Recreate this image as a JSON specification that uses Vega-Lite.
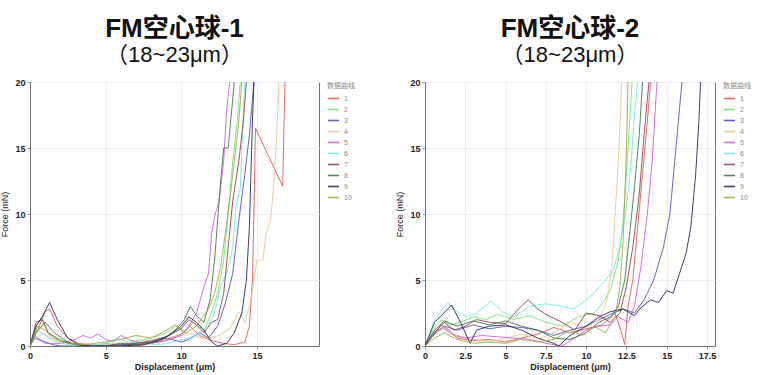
{
  "$schema": "https://vega.github.io/schema/vega-lite/v6.json",
  "background": "white",
  "padding": {"left": 0, "top": 15, "right": 0, "bottom": 0},
  "config": {
    "font": "Liberation Sans",
    "view": {"stroke": "#707070", "strokeWidth": 1},
    "axis": {"labelFont": "Liberation Sans", "labelFontSize": 9, "labelFontWeight": "bold", "labelColor": "#222", "titleFont": "Liberation Sans", "titleFontSize": 9, "titleFontWeight": "bold", "titleColor": "#222", "gridColor": "#eeeeee", "domain": true, "domainColor": "#707070", "tickColor": "#999", "tickSize": 3, "labelPadding": 2},
    "legend": {"titleFontSize": 7, "titleFontWeight": "normal", "titleColor": "#888", "titleFont": "Noto Sans CJK SC", "labelFontSize": 7, "labelColor": "#888", "symbolType": "stroke", "symbolStrokeWidth": 1.6, "symbolSize": 120, "rowPadding": 1, "offset": 8, "titlePadding": 3},
    "title": {"font": "Liberation Sans, Noto Sans CJK SC", "fontSize": 26, "fontWeight": "bold", "color": "#111", "subtitleFont": "Liberation Sans, Noto Sans CJK SC", "subtitleFontSize": 22, "subtitleColor": "#111", "subtitlePadding": 0, "anchor": "middle", "offset": 12}
  },
  "datasets": {
    "p1": [
      {"c":1,"x":0,"y":0},{"c":1,"x":0.5,"y":1.2},{"c":1,"x":1.0,"y":2.6},{"c":1,"x":1.3,"y":2.8},{"c":1,"x":1.8,"y":1.5},{"c":1,"x":2.5,"y":0.6},{"c":1,"x":3.2,"y":0.2},{"c":1,"x":4,"y":0.1},{"c":1,"x":5,"y":0},{"c":1,"x":6,"y":0.1},{"c":1,"x":7,"y":0},{"c":1,"x":8,"y":0.2},{"c":1,"x":9,"y":0.5},{"c":1,"x":10,"y":0.9},{"c":1,"x":10.6,"y":1.5},{"c":1,"x":11.2,"y":0.8},{"c":1,"x":12,"y":0.4},{"c":1,"x":12.8,"y":0.2},{"c":1,"x":13.5,"y":0.1},{"c":1,"x":14.2,"y":0.3},{"c":1,"x":14.5,"y":1.5},{"c":1,"x":14.7,"y":5},{"c":1,"x":14.8,"y":10},{"c":1,"x":14.9,"y":16.5},{"c":1,"x":16.7,"y":12.1},{"c":1,"x":16.85,"y":20},{"c":1,"x":16.9,"y":22},
      {"c":2,"x":0,"y":0},{"c":2,"x":0.4,"y":1.5},{"c":2,"x":0.8,"y":2.2},{"c":2,"x":1.2,"y":1.0},{"c":2,"x":1.8,"y":0.6},{"c":2,"x":2.5,"y":0.3},{"c":2,"x":3,"y":0.1},{"c":2,"x":4,"y":0},{"c":2,"x":5,"y":0.2},{"c":2,"x":6,"y":0.1},{"c":2,"x":7,"y":0.3},{"c":2,"x":8,"y":0.6},{"c":2,"x":9,"y":1.0},{"c":2,"x":9.6,"y":1.5},{"c":2,"x":10.2,"y":1.0},{"c":2,"x":10.8,"y":1.8},{"c":2,"x":11.5,"y":1.2},{"c":2,"x":12.0,"y":2.5},{"c":2,"x":12.4,"y":4.0},{"c":2,"x":12.8,"y":6.5},{"c":2,"x":13.1,"y":10},{"c":2,"x":13.4,"y":14},{"c":2,"x":13.7,"y":17},{"c":2,"x":13.9,"y":20},{"c":2,"x":14,"y":22},
      {"c":3,"x":0,"y":0},{"c":3,"x":0.3,"y":0.6},{"c":3,"x":0.8,"y":0.4},{"c":3,"x":1.5,"y":0.1},{"c":3,"x":2,"y":0},{"c":3,"x":4,"y":0},{"c":3,"x":6,"y":0.1},{"c":3,"x":8,"y":0.3},{"c":3,"x":9,"y":0.6},{"c":3,"x":10,"y":0.3},{"c":3,"x":10.5,"y":0.5},{"c":3,"x":11.2,"y":1.0},{"c":3,"x":11.8,"y":0.6},{"c":3,"x":12.4,"y":1.5},{"c":3,"x":12.9,"y":3.2},{"c":3,"x":13.4,"y":5.5},{"c":3,"x":13.8,"y":9.5},{"c":3,"x":14.2,"y":13},{"c":3,"x":14.5,"y":16},{"c":3,"x":14.8,"y":20},{"c":3,"x":14.9,"y":22},
      {"c":4,"x":0,"y":0},{"c":4,"x":0.4,"y":0.6},{"c":4,"x":0.9,"y":1.0},{"c":4,"x":1.5,"y":0.5},{"c":4,"x":2.5,"y":0.2},{"c":4,"x":3.5,"y":0},{"c":4,"x":5,"y":0.1},{"c":4,"x":6.5,"y":0.3},{"c":4,"x":7.5,"y":0.5},{"c":4,"x":8.5,"y":0.2},{"c":4,"x":9.5,"y":0.6},{"c":4,"x":10.5,"y":1.0},{"c":4,"x":11.5,"y":0.5},{"c":4,"x":12.5,"y":0.8},{"c":4,"x":13.2,"y":1.3},{"c":4,"x":13.8,"y":2.6},{"c":4,"x":14.2,"y":1.8},{"c":4,"x":14.6,"y":3.5},{"c":4,"x":15.0,"y":6.5},{"c":4,"x":15.4,"y":6.5},{"c":4,"x":15.6,"y":8.5},{"c":4,"x":15.9,"y":9.6},{"c":4,"x":16.1,"y":12},{"c":4,"x":16.3,"y":16},{"c":4,"x":16.45,"y":20},{"c":4,"x":16.5,"y":22},
      {"c":5,"x":0,"y":0},{"c":5,"x":0.3,"y":0.8},{"c":5,"x":0.6,"y":0.5},{"c":5,"x":1.0,"y":0.2},{"c":5,"x":2,"y":0.2},{"c":5,"x":3,"y":0.5},{"c":5,"x":3.5,"y":0.8},{"c":5,"x":4,"y":0.6},{"c":5,"x":4.5,"y":0.9},{"c":5,"x":5,"y":0.5},{"c":5,"x":5.5,"y":0.3},{"c":5,"x":6,"y":0.8},{"c":5,"x":6.5,"y":0.5},{"c":5,"x":7,"y":0.3},{"c":5,"x":8,"y":0.2},{"c":5,"x":9,"y":0.4},{"c":5,"x":10,"y":0.8},{"c":5,"x":10.5,"y":1.5},{"c":5,"x":11,"y":2.5},{"c":5,"x":11.5,"y":4.5},{"c":5,"x":11.8,"y":5.5},{"c":5,"x":12.0,"y":8.5},{"c":5,"x":12.2,"y":9.8},{"c":5,"x":12.5,"y":11},{"c":5,"x":12.8,"y":14},{"c":5,"x":13.0,"y":18},{"c":5,"x":13.2,"y":20},{"c":5,"x":13.3,"y":22},
      {"c":6,"x":0,"y":0},{"c":6,"x":0.5,"y":1.2},{"c":6,"x":1.0,"y":0.8},{"c":6,"x":1.5,"y":0.4},{"c":6,"x":2.5,"y":0.1},{"c":6,"x":3.5,"y":0},{"c":6,"x":5,"y":0.2},{"c":6,"x":5.8,"y":0.6},{"c":6,"x":6.5,"y":0.3},{"c":6,"x":7.5,"y":0.2},{"c":6,"x":8.5,"y":0.1},{"c":6,"x":9.5,"y":0.3},{"c":6,"x":10.5,"y":0.6},{"c":6,"x":11.2,"y":0.9},{"c":6,"x":11.8,"y":1.6},{"c":6,"x":12.2,"y":2.5},{"c":6,"x":12.6,"y":4.5},{"c":6,"x":13,"y":5.5},{"c":6,"x":13.4,"y":7.5},{"c":6,"x":13.6,"y":10.5},{"c":6,"x":13.9,"y":12},{"c":6,"x":14.0,"y":15},{"c":6,"x":14.2,"y":20},{"c":6,"x":14.3,"y":22},
      {"c":7,"x":0,"y":0},{"c":7,"x":0.4,"y":1.8},{"c":7,"x":0.8,"y":2.0},{"c":7,"x":1.2,"y":1.0},{"c":7,"x":2,"y":0.4},{"c":7,"x":3,"y":0.1},{"c":7,"x":4,"y":0},{"c":7,"x":6,"y":0},{"c":7,"x":7,"y":0.2},{"c":7,"x":8,"y":0.4},{"c":7,"x":9,"y":0.7},{"c":7,"x":10,"y":1.3},{"c":7,"x":10.5,"y":2.0},{"c":7,"x":11,"y":1.6},{"c":7,"x":11.5,"y":1.0},{"c":7,"x":12,"y":1.8},{"c":7,"x":12.4,"y":2.0},{"c":7,"x":12.8,"y":4},{"c":7,"x":13.1,"y":7.5},{"c":7,"x":13.4,"y":11},{"c":7,"x":13.8,"y":14},{"c":7,"x":14.1,"y":17},{"c":7,"x":14.3,"y":20},{"c":7,"x":14.4,"y":22},
      {"c":8,"x":0,"y":0},{"c":8,"x":0.4,"y":1.0},{"c":8,"x":1.0,"y":1.8},{"c":8,"x":1.6,"y":1.0},{"c":8,"x":2.5,"y":0.3},{"c":8,"x":3.5,"y":0},{"c":8,"x":5,"y":0},{"c":8,"x":6,"y":0.2},{"c":8,"x":7,"y":0.1},{"c":8,"x":8,"y":0.3},{"c":8,"x":9,"y":0.7},{"c":8,"x":9.6,"y":1.2},{"c":8,"x":10.2,"y":2.0},{"c":8,"x":10.6,"y":3.0},{"c":8,"x":11.0,"y":2.3},{"c":8,"x":11.5,"y":1.8},{"c":8,"x":11.9,"y":3.5},{"c":8,"x":12.2,"y":6.5},{"c":8,"x":12.4,"y":9.5},{"c":8,"x":12.6,"y":12.5},{"c":8,"x":12.8,"y":15},{"c":8,"x":13.1,"y":15},{"c":8,"x":13.3,"y":17.5},{"c":8,"x":13.5,"y":20},{"c":8,"x":13.6,"y":22},
      {"c":9,"x":0,"y":0},{"c":9,"x":0.4,"y":1.5},{"c":9,"x":0.8,"y":2.2},{"c":9,"x":1.3,"y":3.3},{"c":9,"x":1.8,"y":2.0},{"c":9,"x":2.5,"y":0.6},{"c":9,"x":3.2,"y":0.1},{"c":9,"x":4,"y":0},{"c":9,"x":6,"y":0},{"c":9,"x":7.5,"y":0.1},{"c":9,"x":8.5,"y":0.4},{"c":9,"x":9.2,"y":0.8},{"c":9,"x":10,"y":1.5},{"c":9,"x":10.5,"y":2.2},{"c":9,"x":11,"y":1.8},{"c":9,"x":11.5,"y":1.2},{"c":9,"x":12.0,"y":0.3},{"c":9,"x":12.4,"y":0},{"c":9,"x":13.0,"y":0.2},{"c":9,"x":13.5,"y":1.0},{"c":9,"x":14.0,"y":2.5},{"c":9,"x":14.3,"y":5},{"c":9,"x":14.5,"y":9},{"c":9,"x":14.6,"y":13},{"c":9,"x":14.7,"y":17},{"c":9,"x":14.8,"y":20},{"c":9,"x":14.85,"y":22},
      {"c":10,"x":0,"y":0},{"c":10,"x":0.5,"y":1.5},{"c":10,"x":1.0,"y":1.2},{"c":10,"x":1.5,"y":0.6},{"c":10,"x":2.5,"y":0.2},{"c":10,"x":3.5,"y":0.1},{"c":10,"x":5,"y":0.3},{"c":10,"x":6,"y":0.5},{"c":10,"x":7,"y":0.8},{"c":10,"x":8,"y":0.6},{"c":10,"x":9,"y":1.2},{"c":10,"x":9.6,"y":1.6},{"c":10,"x":10.3,"y":1.0},{"c":10,"x":11,"y":1.5},{"c":10,"x":11.8,"y":2.8},{"c":10,"x":12.2,"y":4},{"c":10,"x":12.6,"y":6},{"c":10,"x":12.9,"y":8.5},{"c":10,"x":13.2,"y":11},{"c":10,"x":13.5,"y":14},{"c":10,"x":13.8,"y":17},{"c":10,"x":14.0,"y":20},{"c":10,"x":14.1,"y":22}
    ],
    "p2": [
      {"c":1,"x":0,"y":0},{"c":1,"x":0.5,"y":0.8},{"c":1,"x":1.0,"y":1.6},{"c":1,"x":1.5,"y":1.2},{"c":1,"x":2,"y":0.6},{"c":1,"x":3,"y":0.4},{"c":1,"x":4,"y":0.5},{"c":1,"x":5,"y":0.3},{"c":1,"x":6,"y":0.6},{"c":1,"x":7,"y":0.9},{"c":1,"x":8,"y":1.4},{"c":1,"x":9,"y":1.0},{"c":1,"x":10,"y":1.3},{"c":1,"x":11,"y":1.6},{"c":1,"x":11.8,"y":2.5},{"c":1,"x":12.2,"y":1.0},{"c":1,"x":12.4,"y":0.1},{"c":1,"x":12.6,"y":3},{"c":1,"x":12.9,"y":5},{"c":1,"x":13.2,"y":9},{"c":1,"x":13.5,"y":13},{"c":1,"x":13.8,"y":17},{"c":1,"x":14.0,"y":20},{"c":1,"x":14.1,"y":22},
      {"c":2,"x":0,"y":0},{"c":2,"x":0.5,"y":1.2},{"c":2,"x":1.0,"y":2.0},{"c":2,"x":1.6,"y":1.6},{"c":2,"x":2.2,"y":1.8},{"c":2,"x":3,"y":2.2},{"c":2,"x":3.8,"y":2.0},{"c":2,"x":4.5,"y":2.4},{"c":2,"x":5.5,"y":2.0},{"c":2,"x":6.5,"y":2.3},{"c":2,"x":7.5,"y":1.8},{"c":2,"x":8.5,"y":1.5},{"c":2,"x":9.5,"y":2.2},{"c":2,"x":10.5,"y":2.5},{"c":2,"x":11,"y":3.2},{"c":2,"x":11.5,"y":4.2},{"c":2,"x":12.0,"y":6.5},{"c":2,"x":12.3,"y":9.5},{"c":2,"x":12.5,"y":13},{"c":2,"x":12.7,"y":17},{"c":2,"x":12.85,"y":20},{"c":2,"x":12.9,"y":22},
      {"c":3,"x":0,"y":0},{"c":3,"x":0.5,"y":0.8},{"c":3,"x":1.2,"y":1.5},{"c":3,"x":2,"y":1.2},{"c":3,"x":3,"y":1.6},{"c":3,"x":4,"y":1.3},{"c":3,"x":5,"y":1.5},{"c":3,"x":6,"y":1.4},{"c":3,"x":7,"y":1.2},{"c":3,"x":8,"y":0.8},{"c":3,"x":9,"y":1.2},{"c":3,"x":10,"y":1.5},{"c":3,"x":10.8,"y":2.0},{"c":3,"x":11.5,"y":2.4},{"c":3,"x":12.3,"y":2.8},{"c":3,"x":13,"y":2.5},{"c":3,"x":13.6,"y":3.5},{"c":3,"x":14.2,"y":5},{"c":3,"x":14.8,"y":7.5},{"c":3,"x":15.2,"y":10},{"c":3,"x":15.5,"y":14},{"c":3,"x":15.8,"y":18},{"c":3,"x":15.95,"y":20},{"c":3,"x":16,"y":22},
      {"c":4,"x":0,"y":0},{"c":4,"x":0.6,"y":1.0},{"c":4,"x":1.2,"y":1.3},{"c":4,"x":2,"y":0.8},{"c":4,"x":3,"y":0.5},{"c":4,"x":4,"y":0.3},{"c":4,"x":5,"y":0.6},{"c":4,"x":6,"y":0.9},{"c":4,"x":7,"y":0.5},{"c":4,"x":8,"y":1.0},{"c":4,"x":9,"y":1.8},{"c":4,"x":10,"y":1.4},{"c":4,"x":10.8,"y":2.0},{"c":4,"x":11.3,"y":3.5},{"c":4,"x":11.6,"y":6},{"c":4,"x":11.8,"y":10},{"c":4,"x":12.0,"y":14},{"c":4,"x":12.15,"y":18},{"c":4,"x":12.2,"y":20},{"c":4,"x":12.25,"y":22},
      {"c":5,"x":0,"y":0},{"c":5,"x":0.5,"y":1.0},{"c":5,"x":1.1,"y":1.4},{"c":5,"x":1.8,"y":0.8},{"c":5,"x":2.5,"y":0.6},{"c":5,"x":3.5,"y":0.8},{"c":5,"x":4.5,"y":0.7},{"c":5,"x":5.5,"y":0.6},{"c":5,"x":6.5,"y":0.5},{"c":5,"x":7.5,"y":0.2},{"c":5,"x":8.5,"y":0.0},{"c":5,"x":9.3,"y":0.6},{"c":5,"x":10,"y":1.2},{"c":5,"x":10.8,"y":1.5},{"c":5,"x":11.5,"y":1.6},{"c":5,"x":12,"y":2.2},{"c":5,"x":12.6,"y":1.8},{"c":5,"x":13.0,"y":3},{"c":5,"x":13.4,"y":6},{"c":5,"x":13.8,"y":10},{"c":5,"x":14.1,"y":14},{"c":5,"x":14.3,"y":18},{"c":5,"x":14.4,"y":20},{"c":5,"x":14.5,"y":22},
      {"c":6,"x":0,"y":0},{"c":6,"x":0.6,"y":2.0},{"c":6,"x":1.4,"y":3.3},{"c":6,"x":2,"y":2.6},{"c":6,"x":2.6,"y":2.2},{"c":6,"x":3.2,"y":2.5},{"c":6,"x":4.1,"y":3.4},{"c":6,"x":4.8,"y":2.6},{"c":6,"x":5.5,"y":2.2},{"c":6,"x":6.5,"y":3.0},{"c":6,"x":7.5,"y":3.2},{"c":6,"x":8.5,"y":3.0},{"c":6,"x":9.2,"y":2.8},{"c":6,"x":9.8,"y":3.3},{"c":6,"x":10.5,"y":4.0},{"c":6,"x":11.2,"y":5.0},{"c":6,"x":11.7,"y":5.8},{"c":6,"x":12.1,"y":7.5},{"c":6,"x":12.5,"y":10.5},{"c":6,"x":12.8,"y":14},{"c":6,"x":13.0,"y":17.5},{"c":6,"x":13.2,"y":20},{"c":6,"x":13.3,"y":22},
      {"c":7,"x":0,"y":0},{"c":7,"x":0.6,"y":1.0},{"c":7,"x":1.2,"y":1.8},{"c":7,"x":1.8,"y":1.2},{"c":7,"x":2.5,"y":1.5},{"c":7,"x":3.2,"y":2.0},{"c":7,"x":4,"y":1.8},{"c":7,"x":5,"y":1.7},{"c":7,"x":5.8,"y":2.8},{"c":7,"x":6.4,"y":3.5},{"c":7,"x":7,"y":2.8},{"c":7,"x":7.5,"y":2.4},{"c":7,"x":8.5,"y":1.8},{"c":7,"x":9.3,"y":1.2},{"c":7,"x":10,"y":2.5},{"c":7,"x":10.8,"y":2.3},{"c":7,"x":11.5,"y":1.8},{"c":7,"x":12.1,"y":2.5},{"c":7,"x":12.5,"y":4.5},{"c":7,"x":12.9,"y":7.5},{"c":7,"x":13.3,"y":11.5},{"c":7,"x":13.6,"y":16},{"c":7,"x":13.9,"y":20},{"c":7,"x":14,"y":22},
      {"c":8,"x":0,"y":0},{"c":8,"x":0.6,"y":1.2},{"c":8,"x":1.2,"y":1.9},{"c":8,"x":2,"y":1.5},{"c":8,"x":3,"y":1.9},{"c":8,"x":4,"y":1.6},{"c":8,"x":5,"y":1.9},{"c":8,"x":6,"y":1.5},{"c":8,"x":7,"y":1.2},{"c":8,"x":8,"y":0.6},{"c":8,"x":9,"y":0.5},{"c":8,"x":10,"y":1.0},{"c":8,"x":10.8,"y":1.8},{"c":8,"x":11.5,"y":2.2},{"c":8,"x":12.0,"y":3.0},{"c":8,"x":12.4,"y":5},{"c":8,"x":12.7,"y":8.5},{"c":8,"x":13.0,"y":12},{"c":8,"x":13.3,"y":16},{"c":8,"x":13.5,"y":20},{"c":8,"x":13.6,"y":22},
      {"c":9,"x":0,"y":0},{"c":9,"x":0.6,"y":1.8},{"c":9,"x":1.65,"y":3.1},{"c":9,"x":2.2,"y":1.8},{"c":9,"x":2.8,"y":0.2},{"c":9,"x":3.2,"y":1.2},{"c":9,"x":4,"y":1.5},{"c":9,"x":5,"y":1.6},{"c":9,"x":6,"y":1.2},{"c":9,"x":7,"y":0.6},{"c":9,"x":8,"y":0.2},{"c":9,"x":8.3,"y":0},{"c":9,"x":9,"y":0.8},{"c":9,"x":10,"y":1.5},{"c":9,"x":10.8,"y":2.2},{"c":9,"x":11.5,"y":2.6},{"c":9,"x":12.3,"y":2.8},{"c":9,"x":13,"y":2.3},{"c":9,"x":13.4,"y":2.9},{"c":9,"x":14,"y":3.5},{"c":9,"x":14.5,"y":3.3},{"c":9,"x":15,"y":4.2},{"c":9,"x":15.4,"y":4.0},{"c":9,"x":15.8,"y":5.5},{"c":9,"x":16.2,"y":7},{"c":9,"x":16.5,"y":9},{"c":9,"x":16.8,"y":13},{"c":9,"x":17.0,"y":17},{"c":9,"x":17.1,"y":20},{"c":9,"x":17.15,"y":22},
      {"c":10,"x":0,"y":0},{"c":10,"x":0.6,"y":0.6},{"c":10,"x":1.2,"y":1.0},{"c":10,"x":2,"y":0.5},{"c":10,"x":3,"y":0.2},{"c":10,"x":4,"y":0.3},{"c":10,"x":5,"y":0.2},{"c":10,"x":6,"y":0.5},{"c":10,"x":7,"y":0.3},{"c":10,"x":8,"y":0.5},{"c":10,"x":9,"y":1.2},{"c":10,"x":9.8,"y":0.8},{"c":10,"x":10.5,"y":1.5},{"c":10,"x":11.2,"y":1.0},{"c":10,"x":11.8,"y":2.2},{"c":10,"x":12.1,"y":4.5},{"c":10,"x":12.3,"y":8},{"c":10,"x":12.45,"y":13},{"c":10,"x":12.55,"y":17},{"c":10,"x":12.6,"y":20},{"c":10,"x":12.65,"y":22}
    ]
  },
  "hconcat": [
    {
      "title": {"text": "FM空心球-1", "subtitle": "    （18~23μm）"},
      "width": 289,
      "height": 264,
      "data": {"name": "p1"},
      "mark": {"type": "line", "strokeWidth": 1, "opacity": 0.85, "clip": true},
      "encoding": {
        "x": {"field": "x", "type": "quantitative", "title": "Displacement (μm)", "scale": {"domain": [0, 19.1], "nice": false}, "axis": {"values": [0, 5, 10, 15], "labelFlush": false, "titlePadding": 2}},
        "y": {"field": "y", "type": "quantitative", "title": "Force (mN)", "scale": {"domain": [0, 20], "nice": false}, "axis": {"values": [0, 5, 10, 15, 20], "titleFontWeight": "normal", "titlePadding": 5}},
        "color": {"field": "c", "type": "nominal", "title": "数据曲线", "scale": {"domain": [1,2,3,4,5,6,7,8,9,10], "range": ["#e0524a", "#6ee06e", "#4a4ab8", "#e8c58e", "#c45ad6", "#6ce8e0", "#8c3848", "#3c7040", "#1c1c50", "#a0a838"]}}
      }
    },
    {
      "title": {"text": "FM空心球-2", "subtitle": "  （18~23μm）"},
      "width": 290,
      "height": 264,
      "data": {"name": "p2"},
      "mark": {"type": "line", "strokeWidth": 1, "opacity": 0.85, "clip": true},
      "encoding": {
        "x": {"field": "x", "type": "quantitative", "title": "Displacement (μm)", "scale": {"domain": [0, 18], "nice": false}, "axis": {"values": [0, 2.5, 5, 7.5, 10, 12.5, 15, 17.5], "format": ".1~f", "labelFlush": false, "titlePadding": 2}},
        "y": {"field": "y", "type": "quantitative", "title": "Force (mN)", "scale": {"domain": [0, 20], "nice": false}, "axis": {"values": [0, 5, 10, 15, 20], "titleFontWeight": "normal", "titlePadding": 5}},
        "color": {"field": "c", "type": "nominal", "title": "数据曲线", "scale": {"domain": [1,2,3,4,5,6,7,8,9,10], "range": ["#e0524a", "#6ee06e", "#4a4ab8", "#e8c58e", "#c45ad6", "#6ce8e0", "#8c3848", "#3c7040", "#1c1c50", "#a0a838"]}}
      }
    }
  ],
  "spacing": 39,
  "resolve": {"legend": {"color": "independent"}, "scale": {"color": "independent"}}
}
